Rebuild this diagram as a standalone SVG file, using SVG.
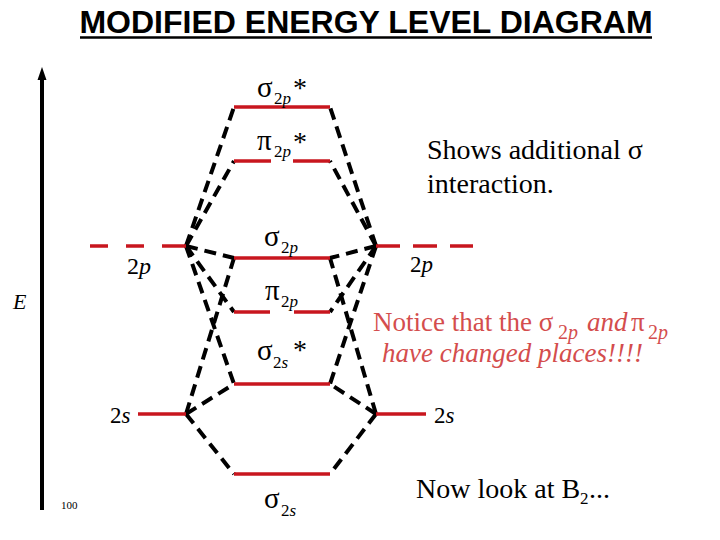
<svg xmlns="http://www.w3.org/2000/svg" width="720" height="540" viewBox="0 0 720 540">
<style>
.lvl{stroke:#C8161E;stroke-width:3.5;fill:none}
.dl{stroke:#C8161E;stroke-width:3.5;fill:none}
.cn{stroke:#000;stroke-width:4;fill:none;stroke-dasharray:12 7}
.t{font-family:"Liberation Serif","Times New Roman",serif;fill:#000}
.it{font-style:italic}
.red{fill:#D44D4D}
</style>
<rect width="720" height="540" fill="#fff"/>
<g id="title">
<text x="366" y="33" text-anchor="middle" font-family="'Liberation Sans',Arial,sans-serif" font-weight="bold" font-size="32" fill="#000">MODIFIED ENERGY LEVEL DIAGRAM</text>
<line x1="80" y1="37.5" x2="652" y2="37.5" stroke="#000" stroke-width="2.5"/>
</g>
<g id="axis">
<line x1="42" y1="78" x2="42" y2="510" stroke="#000" stroke-width="4"/>
<polygon points="42,67 37.5,80 46.5,80" fill="#000"/>
<text class="t it" x="13" y="309" font-size="22">E</text>
<text class="t" x="61" y="509" font-size="11">100</text>
</g>
<g id="connectors">
<polyline class="cn" points="186,246 234,107"/>
<polyline class="cn" points="186,246 234,161"/>
<polyline class="cn" points="186,246 234,258"/>
<polyline class="cn" points="186,246 234,312"/>
<polyline class="cn" points="186,246 234,384"/>
<polyline class="cn" points="186,414 234,258"/>
<polyline class="cn" points="186,414 234,384"/>
<polyline class="cn" points="186,414 234,474"/>
<polyline class="cn" points="376,246 330,107"/>
<polyline class="cn" points="376,246 330,161"/>
<polyline class="cn" points="376,246 330,258"/>
<polyline class="cn" points="376,246 330,312"/>
<polyline class="cn" points="376,246 330,384"/>
<polyline class="cn" points="376,414 330,258"/>
<polyline class="cn" points="376,414 330,384"/>
<polyline class="cn" points="376,414 330,474"/>
</g>
<g id="ao-2p-left">
<line class="dl" x1="90" y1="246" x2="186" y2="246" stroke-dasharray="18 18 18 18 24"/>
<text class="t" x="127" y="274" font-size="24">2<tspan class="it">p</tspan></text>
</g>
<g id="ao-2p-right">
<line class="dl" x1="376" y1="246" x2="473" y2="246" stroke-dasharray="24 13 24 13 24"/>
<text class="t" x="410" y="272" font-size="23">2<tspan class="it">p</tspan></text>
</g>
<g id="ao-2s-left">
<line class="lvl" x1="138" y1="414" x2="186" y2="414"/>
<text class="t" x="110" y="423" font-size="23">2<tspan class="it">s</tspan></text>
</g>
<g id="ao-2s-right">
<line class="lvl" x1="376" y1="414" x2="426" y2="414"/>
<text class="t" x="434" y="423" font-size="23">2<tspan class="it">s</tspan></text>
</g>
<g id="mo-sigma2p-star">
<line class="lvl" x1="234" y1="107" x2="330" y2="107"/>
<text class="t" x="257" y="97" font-size="29">σ</text>
<text class="t" x="274" y="104" font-size="17">2<tspan class="it">p</tspan></text>
<text class="t" x="293" y="97" font-size="28">*</text>
</g>
<g id="mo-pi2p-star">
<line class="lvl" x1="234" y1="161" x2="271" y2="161"/>
<line class="lvl" x1="293" y1="161" x2="330" y2="161"/>
<text class="t" x="257" y="150" font-size="29">π</text>
<text class="t" x="274" y="157" font-size="17">2<tspan class="it">p</tspan></text>
<text class="t" x="293" y="151" font-size="28">*</text>
</g>
<g id="mo-sigma2p">
<line class="lvl" x1="234" y1="258" x2="330" y2="258"/>
<text class="t" x="264" y="246" font-size="29">σ</text>
<text class="t" x="281" y="253" font-size="17">2<tspan class="it">p</tspan></text>
</g>
<g id="mo-pi2p">
<line class="lvl" x1="234" y1="312" x2="270" y2="312"/>
<line class="lvl" x1="294" y1="312" x2="330" y2="312"/>
<text class="t" x="265" y="300" font-size="29">π</text>
<text class="t" x="281" y="307" font-size="17">2<tspan class="it">p</tspan></text>
</g>
<g id="mo-sigma2s-star">
<line class="lvl" x1="234" y1="384" x2="330" y2="384"/>
<text class="t" x="257" y="360" font-size="29">σ</text>
<text class="t" x="273" y="368" font-size="17">2<tspan class="it">s</tspan></text>
<text class="t" x="293" y="359" font-size="28">*</text>
</g>
<g id="mo-sigma2s">
<line class="lvl" x1="234" y1="474" x2="330" y2="474"/>
<text class="t" x="264" y="508" font-size="29">σ</text>
<text class="t" x="281" y="516" font-size="17">2<tspan class="it">s</tspan></text>
</g>
<g id="notes">
<text class="t" x="427" y="159" font-size="28">Shows additional σ</text>
<text class="t" x="427" y="193" font-size="28">interaction.</text>
<text class="t red" x="373" y="331" font-size="27">Notice that the σ</text>
<text class="t red" x="558" y="339" font-size="20">2<tspan class="it">p</tspan></text>
<text class="t red it" x="587" y="331" font-size="27">and</text>
<text class="t red" x="631" y="331" font-size="27">π</text>
<text class="t red" x="648" y="339" font-size="20">2<tspan class="it">p</tspan></text>
<text class="t red it" x="382" y="362" font-size="27">have changed places!!!!</text>
<text class="t" x="416" y="498" font-size="28">Now look at B</text>
<text class="t" x="580" y="504" font-size="17">2</text>
<text class="t" x="589" y="498" font-size="28">...</text>
</g>
</svg>
